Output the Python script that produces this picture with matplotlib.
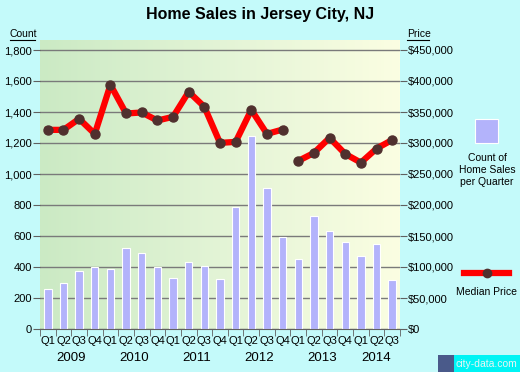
import numpy as np
import matplotlib.pyplot as plt
from matplotlib.colors import LinearSegmentedColormap

plt.rcParams['font.family'] = ['Liberation Sans', 'DejaVu Sans']

# Datos
trimestres = ['Q1', 'Q2', 'Q3', 'Q4'] * 5 + ['Q1', 'Q2', 'Q3']
anios = ['2009', '2010', '2011', '2012', '2013', '2014']
ventas = [256, 295, 373, 399, 386, 522, 489, 399, 328, 431, 405, 321,
          787, 1246, 910, 593, 451, 729, 632, 561, 474, 548, 315]
precio = [321200, 321200, 339000, 314700, 393900, 347600, 349200, 336300,
          342200, 382600, 358400, 300200, 301800, 353500, 314700, 321700,
          271100, 284000, 308300, 282400, 268400, 291000, 305000]
corte = 16  # no hay línea entre 2012 Q4 y 2013 Q1

fondo = '#C4FAFA'
fig = plt.figure(figsize=(5.2, 3.72), dpi=100, facecolor=fondo)
ax = fig.add_axes([40 / 520, 1 - 329 / 372, 360 / 520, 289 / 372])

x = np.arange(len(ventas))
ymax = 1800 * 289 / 279
ax.set_xlim(-0.5, len(ventas) - 0.5)
ax.set_ylim(0, ymax)

# fondo degradado verde -> amarillo
cmap = LinearSegmentedColormap.from_list('g', ['#CBEAC4', '#E3F4D6', '#FBFEE2'])
ax.imshow(np.linspace(0, 1, 256).reshape(1, -1), cmap=cmap, aspect='auto',
          extent=(-0.5, len(ventas) - 0.5, 0, ymax), zorder=0)

ax.set_axisbelow(True)
ax.yaxis.grid(True, color='#7A7A7A', linewidth=1)
ax.bar(x, ventas, width=0.47, color='#B3B3FB', edgecolor='white', linewidth=0.8, zorder=2)

ax.set_yticks(np.arange(0, 1801, 200))
ax.set_yticklabels([f'{v:,}' for v in range(0, 1801, 200)])
ax.set_xticks(x)
ax.set_xticklabels(trimestres)
ax.set_xticks(np.arange(-0.5, len(ventas), 1), minor=True)
ax.tick_params(axis='x', which='major', length=0, pad=5, labelsize=8)
ax.tick_params(axis='x', which='minor', length=5, color='#606060')
ax.tick_params(axis='y', length=5, color='#606060', labelsize=8, pad=1)
for s in ['top', 'left', 'right']:
    ax.spines[s].set_visible(False)
ax.spines['bottom'].set_color('#606060')

ax2 = ax.twinx()
ax2.set_ylim(0, 450000 * 289 / 279)
ax2.set_yticks(np.arange(0, 450001, 50000))
ax2.set_yticklabels([f'${v:,}' for v in range(0, 450001, 50000)])
ax2.tick_params(axis='y', length=5, color='#606060', labelsize=8, pad=1)
for s in ax2.spines.values():
    s.set_visible(False)

estilo = dict(color='red', linewidth=4.5, marker='o', markersize=6.5,
              markerfacecolor='#50302E', markeredgecolor='#50302E', zorder=3)
ax2.plot(x[:corte], precio[:corte], **estilo)
ax2.plot(x[corte:], precio[corte:], **estilo)

# años debajo de los trimestres
for i, a in enumerate(anios):
    n = min(4, len(ventas) - 4 * i)
    ax.text(4 * i + (n - 1) / 2, -0.1, a, transform=ax.get_xaxis_transform(),
            ha='center', va='center', fontsize=9.5)

fig.text(0.5, 1 - 15 / 372, 'Home Sales in Jersey City, NJ', ha='center', va='center',
         fontsize=11.5, fontweight='bold')
fig.text(10 / 520, 1 - 34 / 372, 'Count', fontsize=7.5, va='center', ha='left')
fig.text(407 / 520, 1 - 34 / 372, 'Price', fontsize=7.5, va='center', ha='left')
fig.add_artist(plt.Line2D([10 / 520, 35 / 520], [1 - 40 / 372] * 2, color='black', linewidth=0.8))
fig.add_artist(plt.Line2D([407 / 520, 429 / 520], [1 - 40 / 372] * 2, color='black', linewidth=0.8))

# leyenda
fig.add_artist(plt.Rectangle((475 / 520, 1 - 143 / 372), 23 / 520, 24 / 372,
                             facecolor='#B3B3FB', edgecolor='white', linewidth=0.8))
fig.text(487 / 520, 1 - 170 / 372, 'Count of\nHome Sales\nper Quarter', ha='center',
         va='center', fontsize=7.5, linespacing=1.3)
fig.add_artist(plt.Line2D([464 / 520, 509 / 520], [1 - 273 / 372] * 2, color='red', linewidth=4.5))
fig.add_artist(plt.Line2D([487 / 520], [1 - 273 / 372], color='#50302E', marker='o', markersize=6))
fig.text(487 / 520, 1 - 292 / 372, 'Median Price', ha='center', va='center', fontsize=7.5)

# marca de agua
fig.add_artist(plt.Rectangle((438 / 520, 0), 16 / 520, 17 / 372, facecolor='#4A5A8A', edgecolor='none'))
fig.add_artist(plt.Rectangle((454 / 520, 0), 66 / 520, 17 / 372, facecolor='#00F4F4', edgecolor='none'))
fig.text(486 / 520, 1 - 364 / 372, 'city-data.com', ha='center', va='center', fontsize=7.5,
         color='#E8F4F4')

fig.savefig('out.png', dpi=100, facecolor=fondo)
